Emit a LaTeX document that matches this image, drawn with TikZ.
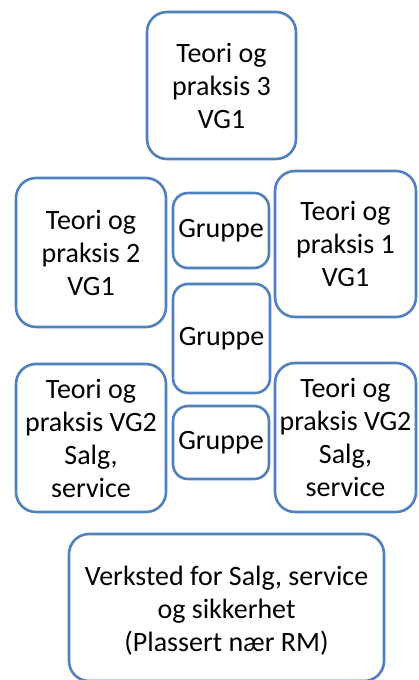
\documentclass[tikz,border=0pt]{standalone}
\usepackage{fontspec}
\setmainfont{Carlito}
\definecolor{boxblue}{RGB}{79,129,189}
\begin{document}
\begin{tikzpicture}[x=1pt,y=-1pt,
  boxtext/.style={align=center, inner sep=0pt, font=\fontsize{28pt}{33pt}\selectfont},
  box/.style={boxtext, draw=boxblue, line width=2.6pt, rounded corners=20pt, fill=white},
  smallbox/.style={box, rounded corners=15pt}]
\useasboundingbox (0,0) rectangle (418,680);
\node[box, minimum width=149pt, minimum height=147pt] (t3) at (221.5,85.5) {Teori og\\praksis 3\\VG1};
\node[box, minimum width=150pt, minimum height=149pt] (t2) at (91,252.5) {Teori og\\praksis 2\\VG1};
\node[smallbox, minimum width=96pt, minimum height=75pt] (g1) at (221,230.5) {Gruppe};
\node[box, minimum width=141pt, minimum height=146pt] (t1) at (345.5,244) {Teori og\\praksis 1\\VG1};
\node[smallbox, minimum width=97pt, minimum height=109pt] (g2) at (221.5,338.5) {Gruppe};
\node[box, minimum width=150pt, minimum height=148pt] (l2) at (91,438) {Teori og\\praksis VG2\\Salg,\\service};
\node[smallbox, minimum width=96pt, minimum height=73pt] (g3) at (221,442.5) {Gruppe};
\node[box, minimum width=141pt, minimum height=149pt] (r2) at (345.5,437.5) {Teori og\\praksis VG2\\Salg,\\service};
\node[box, minimum width=315pt, minimum height=147pt] (v) at (226.5,607.5) {};
\node[boxtext] (vt) at (226.5,610.5) {Verksted for Salg, service\\og sikkerhet\\(Plassert nær RM)};
\end{tikzpicture}
\end{document}
